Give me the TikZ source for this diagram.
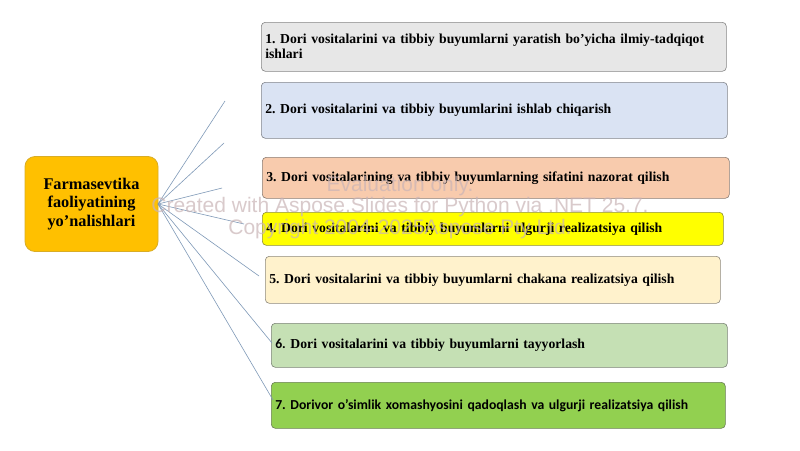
\documentclass[tikz,border=0pt]{standalone}
\usepackage{fontspec}
\setmainfont{Liberation Serif}
\newfontfamily\carlito{Carlito}
\newfontfamily\wmfont{Liberation Sans}
\frenchspacing
\begin{document}
\begin{tikzpicture}[x=1pt,y=-1pt,
  item/.style={draw=#1!60!black!55!gray, line width=0.6pt, rounded corners=4pt, fill=#1,
     anchor=north west, inner sep=2pt, align=left, font=\bfseries\fontsize{13.7}{15}\selectfont},
  link/.style={draw=linkc, line width=0.6pt},
  wm/.style={font=\wmfont\fontsize{21}{23}\selectfont, text=wmc, opacity=0.7}]
\definecolor{linkc}{HTML}{7F99B8}
\definecolor{wmc}{HTML}{C9B4B6}
\definecolor{c1}{HTML}{E7E7E7}
\definecolor{c2}{HTML}{DAE3F3}
\definecolor{c3}{HTML}{F8CBAD}
\definecolor{c4}{HTML}{FFFF00}
\definecolor{c5}{HTML}{FFF2CC}
\definecolor{c6}{HTML}{C5E0B4}
\definecolor{c7}{HTML}{92D050}
\definecolor{cc}{HTML}{FFC000}
\useasboundingbox (0,0) rectangle (800,450);
\fill[white] (0,0) rectangle (800,450);

\node[draw=cc!70!gray, line width=0.8pt, fill=cc, rounded corners=10pt, minimum width=133pt, minimum height=95pt,
  align=center, font=\bfseries\fontsize{16.3}{18.5}\selectfont] (c) at (91.5,204) {Farmasevtika\\faoliyatining\\yo’nalishlari};

\node[item=c1, minimum width=465pt, minimum height=49pt, text width=457pt] (b1) at (261,22)
  {1. Dori vositalarini va tibbiy buyumlarni yaratish bo’yicha ilmiy-tadqiqot ishlari};
\node[item=c2, minimum width=466pt, minimum height=56pt, text width=458pt] (b2) at (261,82)
  {2. Dori vositalarini va tibbiy buyumlarini ishlab chiqarish};
\node[item=c3, minimum width=467pt, minimum height=41pt, text width=459pt] (b3) at (262,157)
  {3. Dori vositalarining va tibbiy buyumlarning sifatini nazorat qilish};
\node[item=c4, minimum width=461pt, minimum height=33pt, text width=453pt] (b4) at (262,212)
  {4. Dori vositalarini va tibbiy buyumlarni ulgurji realizatsiya qilish};
\node[item=c5, minimum width=455pt, minimum height=47pt, text width=447pt] (b5) at (265,256)
  {5. Dori vositalarini va tibbiy buyumlarni chakana realizatsiya qilish};
\node[item=c6, minimum width=456pt, minimum height=44pt, text width=448pt] (b6) at (271,323)
  {{\carlito 6.} Dori vositalarini va tibbiy buyumlarni tayyorlash};
\node[item=c7, minimum width=454pt, minimum height=46pt, text width=446pt] (b7) at (271,382)
  {\carlito\fontsize{13.7}{15}\selectfont 7. Dorivor o’simlik xomashyosini qadoqlash va ulgurji realizatsiya qilish};

\coordinate (o) at (158,204);
\coordinate (e1) at (225,101);
\coordinate (e2) at (224,143);
\coordinate (e3) at (222,188);
\coordinate (e4) at (244,224);
\coordinate (e5) at (259,276);
\coordinate (e6) at (272,343);
\coordinate (e7) at (273,400);
\foreach \i in {1,...,7} \draw[link] (o) -- (e\i);

\node[wm] (w1) at (400,186) {Evaluation only.};
\node[wm] (w2) at (400,207) {Created with Aspose.Slides for Python via .NET 25.7.};
\node[wm] (w3) at (400,229) {Copyright 2004-2025Aspose Pty Ltd.};
\end{tikzpicture}
\end{document}
